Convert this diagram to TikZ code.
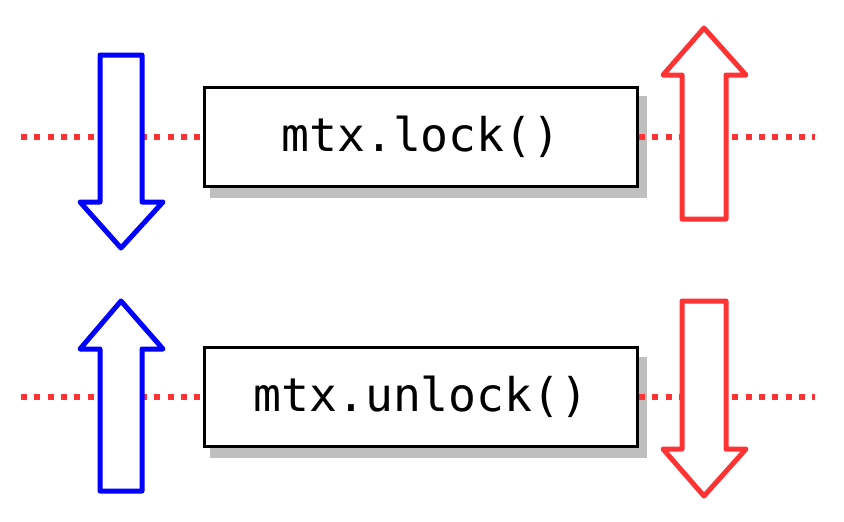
\documentclass[tikz,border=0pt]{standalone}
\usepackage{fontspec}
\setmonofont{DejaVu Sans Mono}
\usetikzlibrary{calc}
\definecolor{myred}{RGB}{255,51,51}
\definecolor{myblue}{RGB}{0,0,255}
\definecolor{shadowgray}{RGB}{191,191,191}
\newlength{\pxu}
\setlength{\pxu}{0.75pt}
\tikzset{
  codebox/.style={draw=black, line width=2.25pt, fill=white, minimum width=433\pxu, minimum height=99\pxu, inner sep=0pt, font=\ttfamily\fontsize{34.8}{40}\selectfont},
  dotline/.style={draw=myred, line width=3.8pt, dash pattern=on 4.4pt off 5.6pt},
  fatarrow/.style={line width=3.75pt, line join=round, fill=white},
}
\begin{document}
\begin{tikzpicture}[x=0.75pt,y=-0.75pt]
\useasboundingbox (0,0) rectangle (844,522);
% top row
\coordinate (tl) at (21,137);
\coordinate (tr) at (815,137);
\fill[shadowgray] (210,96) rectangle (647,198);
\node[codebox] (lock) at (421,137) {mtx.lock()};
\draw[dotline] (tl) -- (lock.west);
\draw[dotline] (lock.east) -- (tr);
\draw[fatarrow, draw=myblue] (100,55) -- (142,55) -- (142,202) -- (163,202) -- (121,248) -- (80,202) -- (100,202) -- cycle;
\draw[fatarrow, draw=myred] (682,219) -- (726,219) -- (726,75) -- (746,75) -- (704,28) -- (663,75) -- (682,75) -- cycle;
% bottom row
\coordinate (bl) at (21,397);
\coordinate (br) at (815,397);
\fill[shadowgray] (210,357) rectangle (647,458);
\node[codebox] (unlock) at (421,397) {mtx.unlock()};
\draw[dotline] (bl) -- (unlock.west);
\draw[dotline] (unlock.east) -- (br);
\draw[fatarrow, draw=myblue] (100,491) -- (142,491) -- (142,349) -- (163,349) -- (121,301) -- (80,349) -- (100,349) -- cycle;
\draw[fatarrow, draw=myred] (682,301) -- (726,301) -- (726,449) -- (746,449) -- (704,496) -- (663,449) -- (682,449) -- cycle;
\end{tikzpicture}
\end{document}
